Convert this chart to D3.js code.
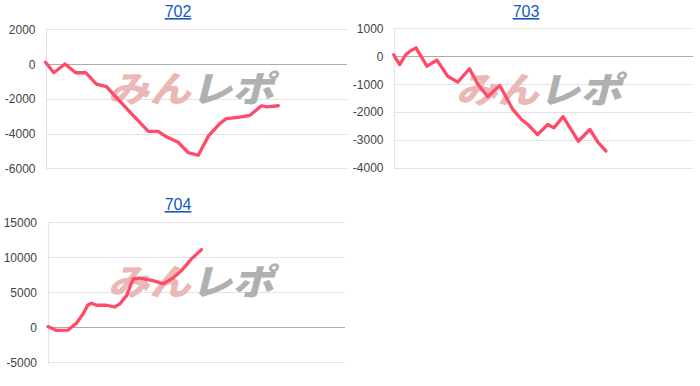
<!DOCTYPE html>
<html>
<head>
<meta charset="utf-8">
<script src="https://cdn.jsdelivr.net/npm/d3@7/dist/d3.min.js"></script>
<style>
  html, body { margin: 0; padding: 0; background: #fff; }
  svg { display: block; font-family: Arial, "Liberation Sans", sans-serif; }
  .title { fill: #1558c0; font-size: 16px; text-decoration: underline; }
  .tick-label { fill: #444; font-size: 12px; }
</style>
</head>
<body>
<div id="chart"></div>
<script>
"use strict";

// machine numbers
const titles = ['702', '703', '704'];

// games played (x) and balance (y)
const games702 = [0, 250, 580, 900, 1200, 1520, 1820, 2070, 2620, 3070, 3360, 3610, 3960, 4260, 4560, 4860, 5200, 5400, 5800, 6100, 6450, 6600, 6950];
const diff702  = [100, -500, 0, -500, -500, -1150, -1300, -1830, -2970, -3870, -3870, -4190, -4500, -5100, -5250, -4150, -3430, -3140, -3050, -2950, -2400, -2460, -2400];

const games703 = [0, 180, 360, 480, 670, 1000, 1300, 1625, 1925, 2280, 2530, 2830, 3190, 3580, 3845, 4035, 4325, 4635, 4815, 5095, 5550, 5900, 6150, 6380];
const diff703  = [50, -300, 50, 170, 300, -360, -140, -720, -930, -450, -1010, -1455, -1050, -1910, -2270, -2450, -2810, -2450, -2570, -2170, -3050, -2630, -3100, -3400];

const games704 = [0, 255, 610, 860, 1060, 1210, 1315, 1470, 1770, 2020, 2175, 2380, 2580, 2780, 3185, 3490, 3790, 4045, 4350, 4650];
const diff704  = [100, -450, -400, 570, 1900, 3200, 3430, 3150, 3150, 2900, 3340, 4530, 6900, 7040, 6670, 6200, 7060, 8100, 9770, 11100];

const ticks702 = [2000, 0, -2000, -4000, -6000];
const ticks703 = [1000, 0, -1000, -2000, -3000, -4000];
const ticks704 = [15000, 10000, 5000, 0, -5000];

const gameMax = 9000;

const W = 700, H = 386;
const svg = d3.select('#chart').append('svg').attr('width', W).attr('height', H);

function drawChart(opt) {
    const g = svg.append('g').attr('transform', `translate(${opt.ox}, ${opt.oy})`);

    const x = d3.scaleLinear().domain([0, gameMax]).range([opt.left, opt.right]);
    const y = d3.scaleLinear().domain(d3.extent(opt.ticks)).range([opt.bottom, opt.top]);

    // title link
    g.append('text').attr('class', 'title')
     .attr('x', opt.titleX).attr('y', 17)
     .attr('text-anchor', 'middle')
     .text(opt.title);

    // gridlines
    g.selectAll('.grid').data(opt.ticks).enter()
     .append('line')
     .attr('x1', opt.left).attr('x2', opt.right)
     .attr('y1', d => Math.round(y(d)) + 0.5).attr('y2', d => Math.round(y(d)) + 0.5)
     .attr('stroke', d => d === 0 ? '#ababab' : '#e3e3e3')
     .attr('stroke-width', 1.2);

    // left axis line
    g.append('line')
     .attr('x1', Math.round(opt.left) + 0.5).attr('x2', Math.round(opt.left) + 0.5)
     .attr('y1', opt.top).attr('y2', opt.bottom + 2)
     .attr('stroke', '#e3e3e3').attr('stroke-width', 1.2);

    // tick labels
    g.selectAll('.tick-label').data(opt.ticks).enter()
     .append('text').attr('class', 'tick-label')
     .attr('x', opt.labelX).attr('y', d => y(d) + 4.5)
     .attr('text-anchor', 'end')
     .text(d => d);

    // watermark
    const wm = g.append('text')
     .attr('transform', `translate(${opt.wmX}, ${opt.wmY}) skewX(-14)`)
     .attr('font-family', '"Noto Sans CJK JP", sans-serif')
     .attr('font-weight', 900)
     .attr('font-size', 36)
     .attr('textLength', 166)
     .attr('lengthAdjust', 'spacingAndGlyphs');
    wm.append('tspan').attr('fill', '#ebb8b8').text('みん');
    wm.append('tspan').attr('fill', '#b0b0b0').text('レポ');

    // balance line
    const pts = opt.games.map((v, i) => [v, opt.diff[i]]);
    const line = d3.line()
                   .x(d => x(d[0]))
                   .y(d => y(d[1]));
    g.append('path').datum(pts)
     .attr('d', line)
     .attr('fill', 'none')
     .attr('stroke', '#ff4a68')
     .attr('stroke-width', 3.3)
     .attr('stroke-linejoin', 'round')
     .attr('stroke-linecap', 'round');
}

drawChart({ title: titles[0], ox: 0, oy: 0, games: games702, diff: diff702, ticks: ticks702,
            left: 45.5, right: 347, top: 29.3, bottom: 168.3, labelX: 35.5, titleX: 178, wmX: 108, wmY: 102 });
drawChart({ title: titles[1], ox: 0, oy: 0, games: games703, diff: diff703, ticks: ticks703,
            left: 393.7, right: 693, top: 28.3, bottom: 167.7, labelX: 383.5, titleX: 526, wmX: 456, wmY: 103 });
drawChart({ title: titles[2], ox: 0, oy: 193, games: games704, diff: diff704, ticks: ticks704,
            left: 48, right: 345, top: 29.3, bottom: 169.3, labelX: 37, titleX: 178, wmX: 108, wmY: 102 });
</script>
</body>
</html>
